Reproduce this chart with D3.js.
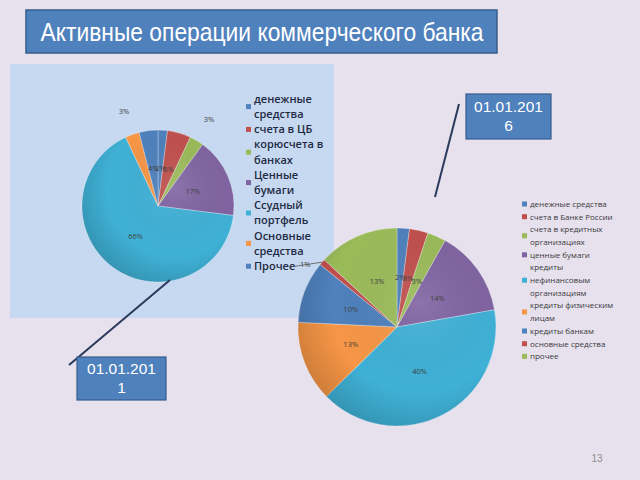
<!DOCTYPE html>
<html><head><meta charset="utf-8">
<script src="https://cdnjs.cloudflare.com/ajax/libs/d3/7.8.5/d3.min.js"></script>
<style>html,body{margin:0;padding:0;background:#e7e1ee;}svg{display:block;}</style>
</head><body>
<script>
// ---- data ----
const titleText = "Активные операции коммерческого банка";
const leftDate = ["01.01.201", "1"];
const rightDate = ["01.01.201", "6"];
const pageNumber = "13";

const leftCategories = ["денежные средства","счета в ЦБ","корюсчета в банках","Ценные бумаги","Ссудный портфель","Основные средства","Прочее"];
const leftLegendLines = [["денежные","средства"],["счета в ЦБ"],["корюсчета в","банках"],["Ценные","бумаги"],["Ссудный","портфель"],["Основные","средства"],["Прочее"]];
const leftValues = [2,5,3,17,66,3,4];
const leftOutside = [false,false,true,false,false,true,false];

const rightCategories = ["денежные средства","счета в Банке России","счета в кредитных организациях","ценные бумаги","кредиты нефинансовым организациям","кредиты физическим лицам","кредиты банкам","основные средства","прочее"];
const rightLegendLines = [["денежные средства"],["счета в Банке России"],["счета в кредитных","организациях"],["ценные бумаги"],["кредиты","нефинансовым","организациям"],["кредиты физическим","лицам"],["кредиты банкам"],["основные средства"],["прочее"]];
const rightValues = [2,3,3,14,40,13,10,1,13];
const rightOutside = [false,false,false,false,false,false,false,true,false];

const C = {blue:"#4f81bd", red:"#c0504d", green:"#9bbb59", purple:"#8064a2", cyan:"#3fb1d6", orange:"#f79646"};
const leftColors = [C.blue,C.red,C.green,C.purple,C.cyan,C.orange,C.blue];
const rightColors = [C.blue,C.red,C.green,C.purple,C.cyan,C.orange,C.blue,C.red,C.green];

// ---- drawing ----
const W = 640, H = 480;
const svg = d3.select("body").append("svg").attr("width", W).attr("height", H);
svg.append("rect").attr("width", W).attr("height", H).attr("fill", "#e7e1ee");

const defs = svg.append("defs");
const g = defs.append("radialGradient").attr("id","shade").attr("cx","0.62").attr("cy","0.38").attr("r","0.75");
g.append("stop").attr("offset","0").attr("stop-color","#fff").attr("stop-opacity",0.10);
g.append("stop").attr("offset","0.6").attr("stop-color","#000").attr("stop-opacity",0.0);
g.append("stop").attr("offset","1").attr("stop-color","#000").attr("stop-opacity",0.22);

// title
svg.append("rect").attr("x",26).attr("y",10).attr("width",471).attr("height",43)
  .attr("fill","#4f81bd").attr("stroke","#385d8a").attr("stroke-width",1.5);
svg.append("text").attr("x",262).attr("y",41).attr("text-anchor","middle")
  .attr("font-family","'Liberation Sans', Arial, sans-serif").attr("font-size",25)
  .attr("textLength",443).attr("lengthAdjust","spacingAndGlyphs")
  .attr("fill","#fff").text(titleText);

// left panel
svg.append("rect").attr("x",10).attr("y",64).attr("width",324).attr("height",254).attr("fill","#c6d9f0");

function drawPie(cx, cy, R, values, colors, outside, outsideK) {
  const pie = d3.pie().sort(null).value(d => d);
  const arcs = pie(values);
  const arc = d3.arc().innerRadius(0).outerRadius(R);
  const lab = d3.arc().innerRadius(R*0.5).outerRadius(R*0.5);
  const out = d3.arc().innerRadius(R*outsideK).outerRadius(R*outsideK);
  const gp = svg.append("g").attr("transform",`translate(${cx},${cy})`);
  gp.selectAll("path.s").data(arcs).join("path").attr("class","s")
    .attr("d", arc).attr("fill",(d,i)=>colors[i])
    .attr("stroke","#fff").attr("stroke-opacity",0.5).attr("stroke-width",0.6);
  gp.append("circle").attr("r",R).attr("fill","url(#shade)");
  gp.selectAll("text.l").data(arcs).join("text").attr("class","l")
    .attr("transform",(d,i)=>{
      if (!outside[i]) return `translate(${lab.centroid(d)})`;
      if (outsideK > 0) return `translate(${out.centroid(d)})`;
      const a = (d.startAngle + d.endAngle)/2;
      return `translate(${Math.sin(a)*R-17},${-Math.cos(a)*R+2})`;
    })
    .attr("text-anchor","middle").attr("dy","0.35em")
    .attr("font-family","'Open Sans', 'DejaVu Sans', sans-serif").attr("font-size",7.5)
    .attr("fill","#404040").text(d=>d.data+"%");
  return {gp, arcs, R};
}

function drawLegend(x, y0, lineH, lines, colors, fs, weight, fill) {
  const gl = svg.append("g");
  let li = 0;
  lines.forEach((ls, i) => {
    const mid = y0 + (li + (ls.length-1)/2) * lineH;
    gl.append("rect").attr("x",x).attr("y",mid-2.5).attr("width",5).attr("height",5).attr("fill",colors[i]);
    ls.forEach((t,k) => {
      gl.append("text").attr("x",x+8).attr("y",y0+(li+k)*lineH).attr("dy","0.35em")
        .attr("font-family","'Open Sans', 'DejaVu Sans', sans-serif").attr("font-size",fs)
        .attr("font-weight",weight).attr("fill",fill).text(t);
    });
    li += ls.length;
  });
}

// left pie + legend
drawPie(158, 206, 76, leftValues, leftColors, leftOutside, 1.32);
drawLegend(246, 99, 15.2, leftLegendLines, leftColors, 11, 600, "#1f2a44");

// right legend
drawLegend(522, 204, 12.7, rightLegendLines, rightColors, 8, 400, "#3a3a3a");

// right pie (outside label sits on a leader line)
const rp = drawPie(397, 327, 99, rightValues, rightColors, rightOutside, 0);
rp.arcs.forEach((d,i) => {
  if (!rightOutside[i]) return;
  const a = (d.startAngle + d.endAngle)/2;
  const ex = Math.sin(a)*rp.R, ey = -Math.cos(a)*rp.R;
  rp.gp.insert("line", "text").attr("x1",ex).attr("y1",ey).attr("x2",ex-33).attr("y2",ey+5)
    .attr("stroke","#555").attr("stroke-width",0.8);
});

// callout boxes
function callout(x, y, w, h, lines, lx1, ly1, lx2, ly2) {
  svg.append("line").attr("x1",lx1).attr("y1",ly1).attr("x2",lx2).attr("y2",ly2)
    .attr("stroke","#2b3a5c").attr("stroke-width",2);
  svg.append("rect").attr("x",x).attr("y",y).attr("width",w).attr("height",h)
    .attr("fill","#4f81bd").attr("stroke","#385d8a").attr("stroke-width",1.2);
  lines.forEach((t,k)=>{
    svg.append("text").attr("x",x+w/2).attr("y",y+h/2+(k-(lines.length-1)/2)*19).attr("dy","0.35em")
      .attr("text-anchor","middle").attr("font-family","'Liberation Sans', Arial, sans-serif")
      .attr("font-size",15.5).attr("fill","#fff").text(t);
  });
}
callout(77, 357, 89, 43, leftDate, 69, 365, 170, 280);
callout(466, 94, 85, 45, rightDate, 459, 104, 435, 197);

// page number
svg.append("text").attr("x",597).attr("y",458).attr("dy","0.35em").attr("text-anchor","middle")
  .attr("font-family","'Liberation Sans', Arial, sans-serif").attr("font-size",10).attr("fill","#8c8c8c").text(pageNumber);
</script>
</body></html>
